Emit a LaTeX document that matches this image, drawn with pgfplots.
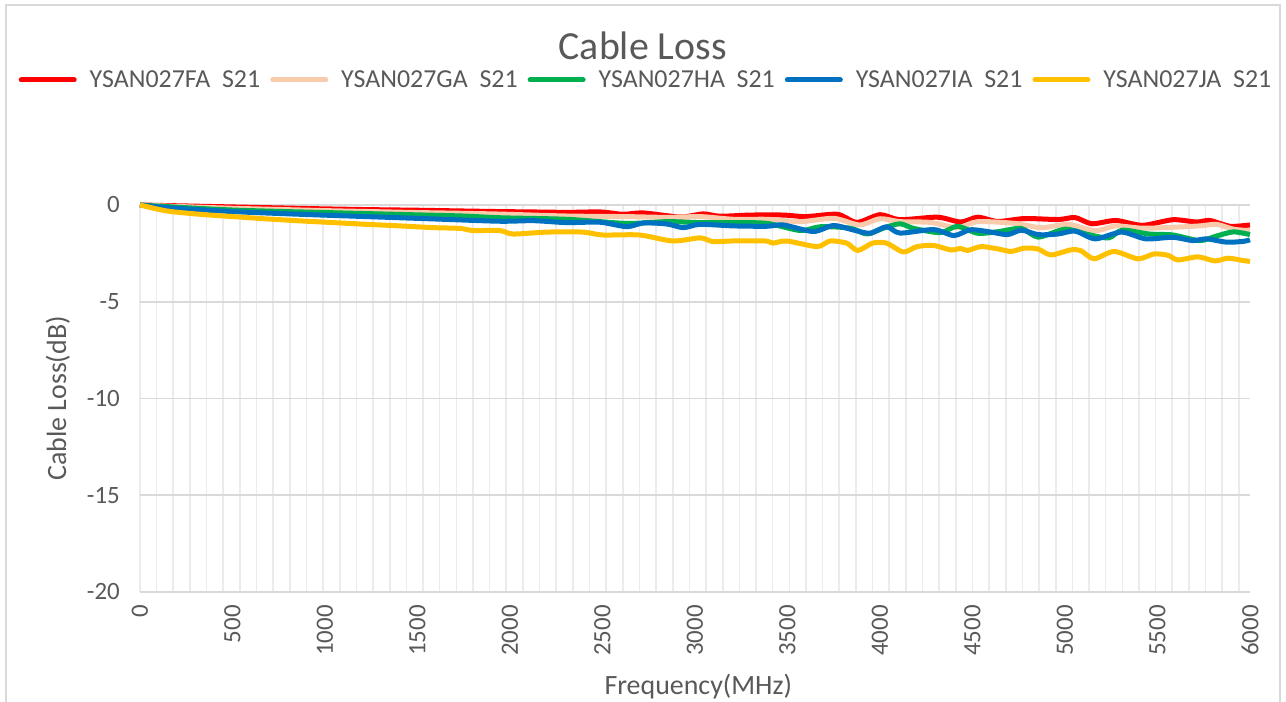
\documentclass[border=0pt]{standalone}
\usepackage{fontspec}
\setmainfont{Carlito}
\usepackage{pgfplots}
\pgfplotsset{compat=1.18}
\definecolor{txt}{HTML}{595959}
\definecolor{grd}{HTML}{D9D9D9}
\definecolor{vgrd}{HTML}{EBEBEB}
\definecolor{cFA}{HTML}{FF0000}
\definecolor{cGA}{HTML}{F8CBAD}
\definecolor{cHA}{HTML}{00B050}
\definecolor{cIA}{HTML}{0070C0}
\definecolor{cJA}{HTML}{FFC000}
\begin{document}
\begin{tikzpicture}
\useasboundingbox (0bp,0bp) rectangle (1286bp,702bp);
\draw[grd, line width=1.5bp] (6bp,-5bp) rectangle (1280bp,697bp);
\begin{axis}[
  at={(140bp,110bp)}, anchor=south west,
  scale only axis, width=1110bp, height=387bp,
  xmin=0, xmax=6000, ymin=-20, ymax=0,
  xtick={0,500,...,6000}, ytick={-20,-15,...,0},
  minor xtick={0,90,...,5940},
  xminorgrids=true, ymajorgrids=true, xmajorgrids=false,
  minor grid style={vgrd, line width=1.6bp},
  major grid style={grd, line width=1.6bp},
  axis line style={draw=none},
  major tick length=0pt, minor tick length=0pt,
  /pgf/number format/assume math mode=true,
  /pgf/number format/1000 sep={},
  ticklabel style={font=\fontsize{25}{30}\selectfont, text=txt, inner sep=0pt},
  xticklabel style={rotate=90, anchor=east},
  xticklabel shift=13bp,
  yticklabel shift=20bp,
  xlabel={Frequency(MHz)}, ylabel={Cable Loss(dB)},
  label style={font=\fontsize{28}{32}\selectfont, text=txt},
  xlabel style={at={(axis description cs:0.503,-0.2455)}, anchor=center},
  ylabel style={at={(axis description cs:-0.0739,0.5)}, anchor=center},
  title={Cable Loss},
  title style={at={(axis description cs:0.453,1.395)}, anchor=center, font=\fontsize{40}{44}\selectfont, text=txt},
  legend columns=5,
  legend style={at={(axis description cs:0.455,1.323)}, anchor=center, draw=none, fill=none,
    font=\fontsize{26}{30}\selectfont, text=txt,
    /tikz/every even column/.append style={column sep=6bp}},
  legend image code/.code={\draw[#1, line width=5bp, line cap=round] (2bp,0bp) -- (55bp,0bp); \path (0bp,0bp) (66bp,0bp);},
  every axis plot/.append style={line width=5bp, smooth, tension=0.45, line join=round},
  clip=false,
]
\addplot[cFA] coordinates {
(0,0) (250,-0.05) (500,-0.1) (750,-0.15) (1000,-0.2) (1250,-0.24) (1500,-0.27) (1750,-0.31) (1950,-0.34)
(2130,-0.36) (2310,-0.38) (2490,-0.36) (2610,-0.48) (2720,-0.41) (2920,-0.62) (3045,-0.46) (3135,-0.58)
(3300,-0.52) (3480,-0.52) (3600,-0.6) (3770,-0.48) (3875,-0.9) (4000,-0.5) (4108,-0.76) (4310,-0.63)
(4437,-0.88) (4528,-0.63) (4637,-0.85) (4782,-0.7) (4964,-0.75) (5055,-0.65) (5146,-0.97) (5274,-0.8)
(5419,-1.05) (5583,-0.76) (5711,-0.88) (5783,-0.8) (5893,-1.1) (6000,-1.03)
};
\addlegendentry{YSAN027FA\ \ S21}
\addplot[cGA] coordinates {
(0,0) (250,-0.09) (500,-0.17) (750,-0.23) (1000,-0.29) (1250,-0.34) (1500,-0.39) (1750,-0.43) (1950,-0.47)
(2310,-0.57) (2630,-0.6) (2850,-0.64) (3030,-0.6) (3210,-0.74) (3390,-0.74) (3570,-0.86) (3750,-0.69)
(3890,-1.03) (4000,-0.71) (4109,-0.86) (4273,-0.9) (4418,-1.17) (4528,-0.86) (4728,-0.95) (4873,-1.17)
(5019,-1.0) (5164,-1.33) (5274,-1.08) (5419,-1.2) (5583,-1.15) (5729,-1.08) (5820,-1.0) (5911,-1.25) (6000,-1.33)
};
\addlegendentry{YSAN027GA\ \ S21}
\addplot[cHA] coordinates {
(0,0) (250,-0.14) (500,-0.26) (750,-0.33) (1000,-0.39) (1250,-0.45) (1500,-0.51) (1750,-0.57) (1950,-0.66)
(2310,-0.74) (2630,-0.95) (2850,-0.86) (3030,-0.91) (3210,-0.91) (3390,-0.95) (3570,-1.32) (3680,-1.12)
(3840,-1.2) (3930,-1.5) (4018,-1.2) (4108,-0.97) (4182,-1.21) (4327,-1.43) (4418,-1.1) (4528,-1.46)
(4637,-1.38) (4764,-1.21) (4855,-1.66) (5001,-1.25) (5128,-1.53) (5237,-1.7) (5310,-1.3) (5456,-1.5)
(5583,-1.55) (5729,-1.84) (5820,-1.6) (5911,-1.39) (6000,-1.53)
};
\addlegendentry{YSAN027HA\ \ S21}
\addplot[cIA] coordinates {
(0,0) (150,-0.14) (500,-0.34) (865,-0.48) (1225,-0.6) (1586,-0.72) (1946,-0.84)
(2126,-0.81) (2306,-0.91) (2486,-0.89) (2631,-1.12) (2721,-0.93) (2847,-0.98) (2937,-1.17) (3027,-1.0)
(3207,-1.08) (3387,-1.1) (3477,-1.03) (3640,-1.37) (3748,-1.06) (3856,-1.29) (3946,-1.46) (4036,-1.12)
(4108,-1.45) (4290,-1.27) (4400,-1.58) (4490,-1.28) (4600,-1.4) (4690,-1.53) (4764,-1.3) (4855,-1.53)
(4961,-1.5) (5055,-1.35) (5164,-1.75) (5306,-1.4) (5437,-1.75) (5583,-1.67) (5692,-1.84) (5765,-1.75)
(5874,-1.92) (5965,-1.88) (6000,-1.8)
};
\addlegendentry{YSAN027IA\ \ S21}
\addplot[cJA] coordinates {
(0,0) (146,-0.31) (324,-0.48) (503,-0.6) (686,-0.72) (865,-0.82) (1045,-0.91) (1225,-1.0) (1405,-1.08)
(1586,-1.17) (1730,-1.21) (1800,-1.32) (1946,-1.32) (2016,-1.5) (2200,-1.4) (2395,-1.4) (2500,-1.55)
(2700,-1.55) (2880,-1.86) (3027,-1.7) (3097,-1.89) (3200,-1.86) (3380,-1.86) (3420,-1.97) (3497,-1.86)
(3660,-2.15) (3730,-1.86) (3820,-1.97) (3880,-2.35) (3960,-1.97) (4035,-1.97) (4127,-2.43) (4200,-2.15)
(4290,-2.09) (4382,-2.32) (4437,-2.25) (4473,-2.35) (4546,-2.15) (4638,-2.27) (4708,-2.4) (4780,-2.23)
(4853,-2.27) (4924,-2.58) (5032,-2.32) (5086,-2.36) (5157,-2.78) (5265,-2.4) (5395,-2.78) (5481,-2.53)
(5557,-2.6) (5611,-2.84) (5719,-2.68) (5811,-2.89) (5881,-2.75) (5951,-2.85) (6000,-2.92)
};
\addlegendentry{YSAN027JA\ \ S21}
\end{axis}
\end{tikzpicture}
\end{document}
